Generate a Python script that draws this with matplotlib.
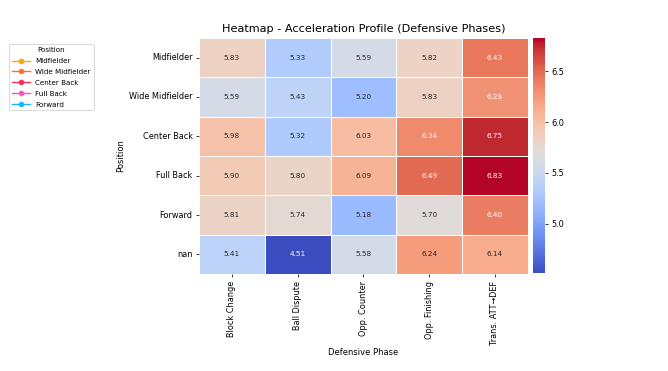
import matplotlib
matplotlib.use("Agg")
import matplotlib.pyplot as plt
import numpy as np
import pandas as pd
import seaborn as sns
from matplotlib.lines import Line2D

positions = ["Midfielder", "Wide Midfielder", "Center Back", "Full Back", "Forward", "nan"]
phases = ["Block Change", "Ball Dispute", "Opp. Counter", "Opp. Finishing", "Trans. ATT→DEF"]

block_change = [5.83, 5.59, 5.98, 5.90, 5.81, 5.41]
ball_dispute = [5.33, 5.43, 5.32, 5.80, 5.74, 4.51]
opp_counter = [5.59, 5.20, 6.03, 6.09, 5.18, 5.58]
opp_finishing = [5.82, 5.83, 6.34, 6.49, 5.70, 6.24]
trans_att_def = [6.43, 6.29, 6.75, 6.83, 6.40, 6.14]

legend_names = ["Midfielder", "Wide Midfielder", "Center Back", "Full Back", "Forward"]
legend_colors = ["#FFA500", "#FF6B35", "#F0325A", "#FF4FC8", "#1EB4FF"]

df = pd.DataFrame(
    np.column_stack([block_change, ball_dispute, opp_counter, opp_finishing, trans_att_def]),
    index=positions, columns=phases,
)

fig = plt.figure(figsize=(10, 5.554), dpi=66.8)
ax = fig.add_axes([0.298, 0.261, 0.492, 0.637])
cax = fig.add_axes([0.798, 0.263, 0.018, 0.635])

sns.heatmap(df, annot=True, fmt=".2f", cmap="coolwarm", linewidths=1, linecolor="white",
            ax=ax, cbar_ax=cax, annot_kws={"fontsize": 7.8})
ax.set_title("Heatmap - Acceleration Profile (Defensive Phases)", fontsize=12.2)
ax.set_xlabel("Defensive Phase", fontsize=9.0)
ax.set_ylabel("Position", fontsize=9.0)
ax.tick_params(axis="x", labelrotation=90, labelsize=8.8)
ax.tick_params(axis="y", labelrotation=0, labelsize=8.8)
cax.tick_params(labelsize=8.8)
cax.set_yticks([5.0, 5.5, 6.0, 6.5])
for sp in cax.spines.values():
    sp.set_visible(False)

handles = [Line2D([], [], color=c, marker="o", markersize=5, label=n)
           for n, c in zip(legend_names, legend_colors)]
fig.legend(handles=handles, title="Position", loc="upper left",
           bbox_to_anchor=(0.008, 0.89), fontsize=7.7, title_fontsize=7.7,
           handlelength=2.5, labelspacing=0.68)

fig.savefig("out.png", dpi=66.8)
